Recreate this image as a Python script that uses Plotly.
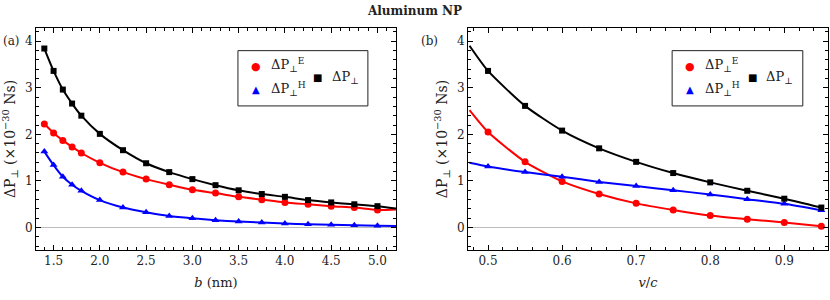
import plotly.graph_objects as go

# ---------------- data ----------------
b_nm = [1.4, 1.5, 1.6, 1.7, 1.8, 2.0, 2.25, 2.5, 2.75, 3.0, 3.25, 3.5, 3.75, 4.0, 4.25, 4.5, 4.75, 5.0]
a_total = [3.84, 3.36, 2.96, 2.66, 2.40, 2.01, 1.66, 1.38, 1.19, 1.04, 0.91, 0.80, 0.72, 0.66, 0.59, 0.54, 0.50, 0.46]
a_E = [2.22, 2.03, 1.87, 1.73, 1.60, 1.39, 1.19, 1.04, 0.92, 0.81, 0.74, 0.66, 0.60, 0.54, 0.50, 0.46, 0.43, 0.38]
a_H = [1.63, 1.34, 1.09, 0.92, 0.79, 0.59, 0.43, 0.33, 0.25, 0.20, 0.16, 0.13, 0.11, 0.09, 0.07, 0.06, 0.05, 0.04]
# curve continuation to the right edge of panel (a)
a_end_x = 5.2
a_end_total, a_end_E, a_end_H = 0.41, 0.39, 0.035

v_c = [0.5, 0.55, 0.6, 0.65, 0.7, 0.75, 0.8, 0.85, 0.9, 0.95]
b_total = [3.36, 2.61, 2.08, 1.70, 1.41, 1.17, 0.97, 0.79, 0.62, 0.43]
b_E = [2.05, 1.41, 0.99, 0.72, 0.52, 0.38, 0.26, 0.18, 0.11, 0.03]
b_H = [1.31, 1.19, 1.09, 0.98, 0.89, 0.80, 0.71, 0.61, 0.51, 0.37]
# curve continuation to the left edge of panel (b)
b_start_x = 0.475
b_start_total, b_start_E, b_start_H = 3.90, 2.52, 1.39

xticks_a = [1.5, 2.0, 2.5, 3.0, 3.5, 4.0, 4.5, 5.0]
xticks_b = [0.5, 0.6, 0.7, 0.8, 0.9]
yticks = [0, 1, 2, 3, 4]

RED, BLUE, BLACK = "#FF0000", "#0000FF", "#000000"
FONT = "DejaVu Serif"

fig = go.Figure()

def add_series(xs, ys, lx, ly, color, symbol, size, xa, ya):
    fig.add_trace(go.Scatter(x=lx, y=ly, mode="lines", line=dict(color=color, width=2, shape="spline", smoothing=0.6),
                             xaxis=xa, yaxis=ya, showlegend=False, hoverinfo="skip"))
    fig.add_trace(go.Scatter(x=xs, y=ys, mode="markers", marker=dict(color=color, symbol=symbol, size=size),
                             xaxis=xa, yaxis=ya, showlegend=False))

# panel (a)
add_series(b_nm, a_E, b_nm + [a_end_x], a_E + [a_end_E], RED, "circle", 7, "x", "y")
add_series(b_nm, a_H, b_nm + [a_end_x], a_H + [a_end_H], BLUE, "triangle-up", 7, "x", "y")
add_series(b_nm, a_total, b_nm + [a_end_x], a_total + [a_end_total], BLACK, "square", 6, "x", "y")
# panel (b)
add_series(v_c, b_E, [b_start_x] + v_c, [b_start_E] + b_E, RED, "circle", 7, "x2", "y2")
add_series(v_c, b_H, [b_start_x] + v_c, [b_start_H] + b_H, BLUE, "triangle-up", 7, "x2", "y2")
add_series(v_c, b_total, [b_start_x] + v_c, [b_start_total] + b_total, BLACK, "square", 6, "x2", "y2")

axis_common = dict(showline=True, linecolor="black", linewidth=1, mirror="allticks", ticks="inside",
                   ticklen=5, tickcolor="black", showgrid=False, automargin=False,
                   tickfont=dict(family=FONT, size=12, color="#222"))
ytitle = "ΔP<sub>⊥</sub> (×10<sup>−30</sup> Ns)"

fig.update_layout(
    width=830, height=300,
    margin=dict(l=36, r=2, t=28, b=50),
    plot_bgcolor="white", paper_bgcolor="white",
    font=dict(family=FONT, size=13, color="#222"),
    title=dict(text="<b>Aluminum NP</b>", x=0.5, xref="container", y=0.965, yref="container",
               xanchor="center", yanchor="middle", font=dict(family=FONT, size=12)),
    xaxis=dict(domain=[0, 0.4545], range=[1.31, 5.2], tickvals=xticks_a, ticktext=[f"{t:.1f}" for t in xticks_a],
               minor=dict(dtick=0.1, ticks="inside", ticklen=3, tickcolor="black"),
               title=dict(text="<i>b</i> (nm)", standoff=10, font=dict(family=FONT, size=13)), **axis_common),
    yaxis=dict(range=[-0.48, 4.28], tickvals=yticks, anchor="x",
               minor=dict(dtick=0.2, ticks="inside", ticklen=3, tickcolor="black"),
               zeroline=True, zerolinecolor="#bbbbbb", zerolinewidth=1,
               title=dict(text=ytitle, standoff=6, font=dict(family=FONT, size=14)), **axis_common),
    xaxis2=dict(domain=[0.5455, 1], range=[0.473, 0.959], tickvals=xticks_b, anchor="y2",
                minor=dict(dtick=0.02, ticks="inside", ticklen=3, tickcolor="black"),
                title=dict(text="<i>v</i>/<i>c</i>", standoff=10, font=dict(family=FONT, size=13)), **axis_common),
    yaxis2=dict(range=[-0.48, 4.28], tickvals=yticks, anchor="x2",
                minor=dict(dtick=0.2, ticks="inside", ticklen=3, tickcolor="black"),
                zeroline=True, zerolinecolor="#bbbbbb", zerolinewidth=1,
                title=dict(text=ytitle, standoff=6, font=dict(family=FONT, size=14)), **axis_common),
)

# legend boxes (drawn manually to get the two-column layout)
for xr, yr, x0, x1 in [("x domain", "y domain", 0.561, 0.922), ("x2 domain", "y2 domain", 0.567, 0.930)]:
    fig.add_shape(type="rect", xref=xr, yref=yr, x0=x0, x1=x1, y0=0.649, y1=0.898,
                  line=dict(color="#222", width=1), fillcolor="white", layer="above")
    fig.add_annotation(xref=xr, yref=yr, x=x0 + 0.05, y=0.827, text="●", showarrow=False,
                       font=dict(color=RED, size=11), xanchor="center", yanchor="middle")
    fig.add_annotation(xref=xr, yref=yr, x=x0 + 0.05, y=0.722, text="▲", showarrow=False,
                       font=dict(color=BLUE, size=10), xanchor="center", yanchor="middle")
    fig.add_annotation(xref=xr, yref=yr, x=x0 + 0.085, y=0.835, text="ΔP<sub>⊥</sub><sup>E</sup>", showarrow=False,
                       font=dict(size=13), xanchor="left", yanchor="middle")
    fig.add_annotation(xref=xr, yref=yr, x=x0 + 0.085, y=0.725, text="ΔP<sub>⊥</sub><sup>H</sup>", showarrow=False,
                       font=dict(size=13), xanchor="left", yanchor="middle")
    fig.add_annotation(xref=xr, yref=yr, x=x0 + 0.222, y=0.775, text="■", showarrow=False,
                       font=dict(color=BLACK, size=10), xanchor="center", yanchor="middle")
    fig.add_annotation(xref=xr, yref=yr, x=x0 + 0.255, y=0.775, text="ΔP<sub>⊥</sub>", showarrow=False,
                       font=dict(size=13), xanchor="left", yanchor="middle")

# panel labels
for txt, xpos in [("(a)", 1), ("(b)", 419)]:
    fig.add_annotation(xref="paper", yref="paper", x=(xpos - 36) / 792, y=(300 - 50 - 41) / 222,
                       text=txt, showarrow=False, xanchor="left", yanchor="middle",
                       font=dict(family=FONT, size=12))

fig.write_html("out.html", config={"displayModeBar": False},
               post_script="document.body.style.margin='0';")
